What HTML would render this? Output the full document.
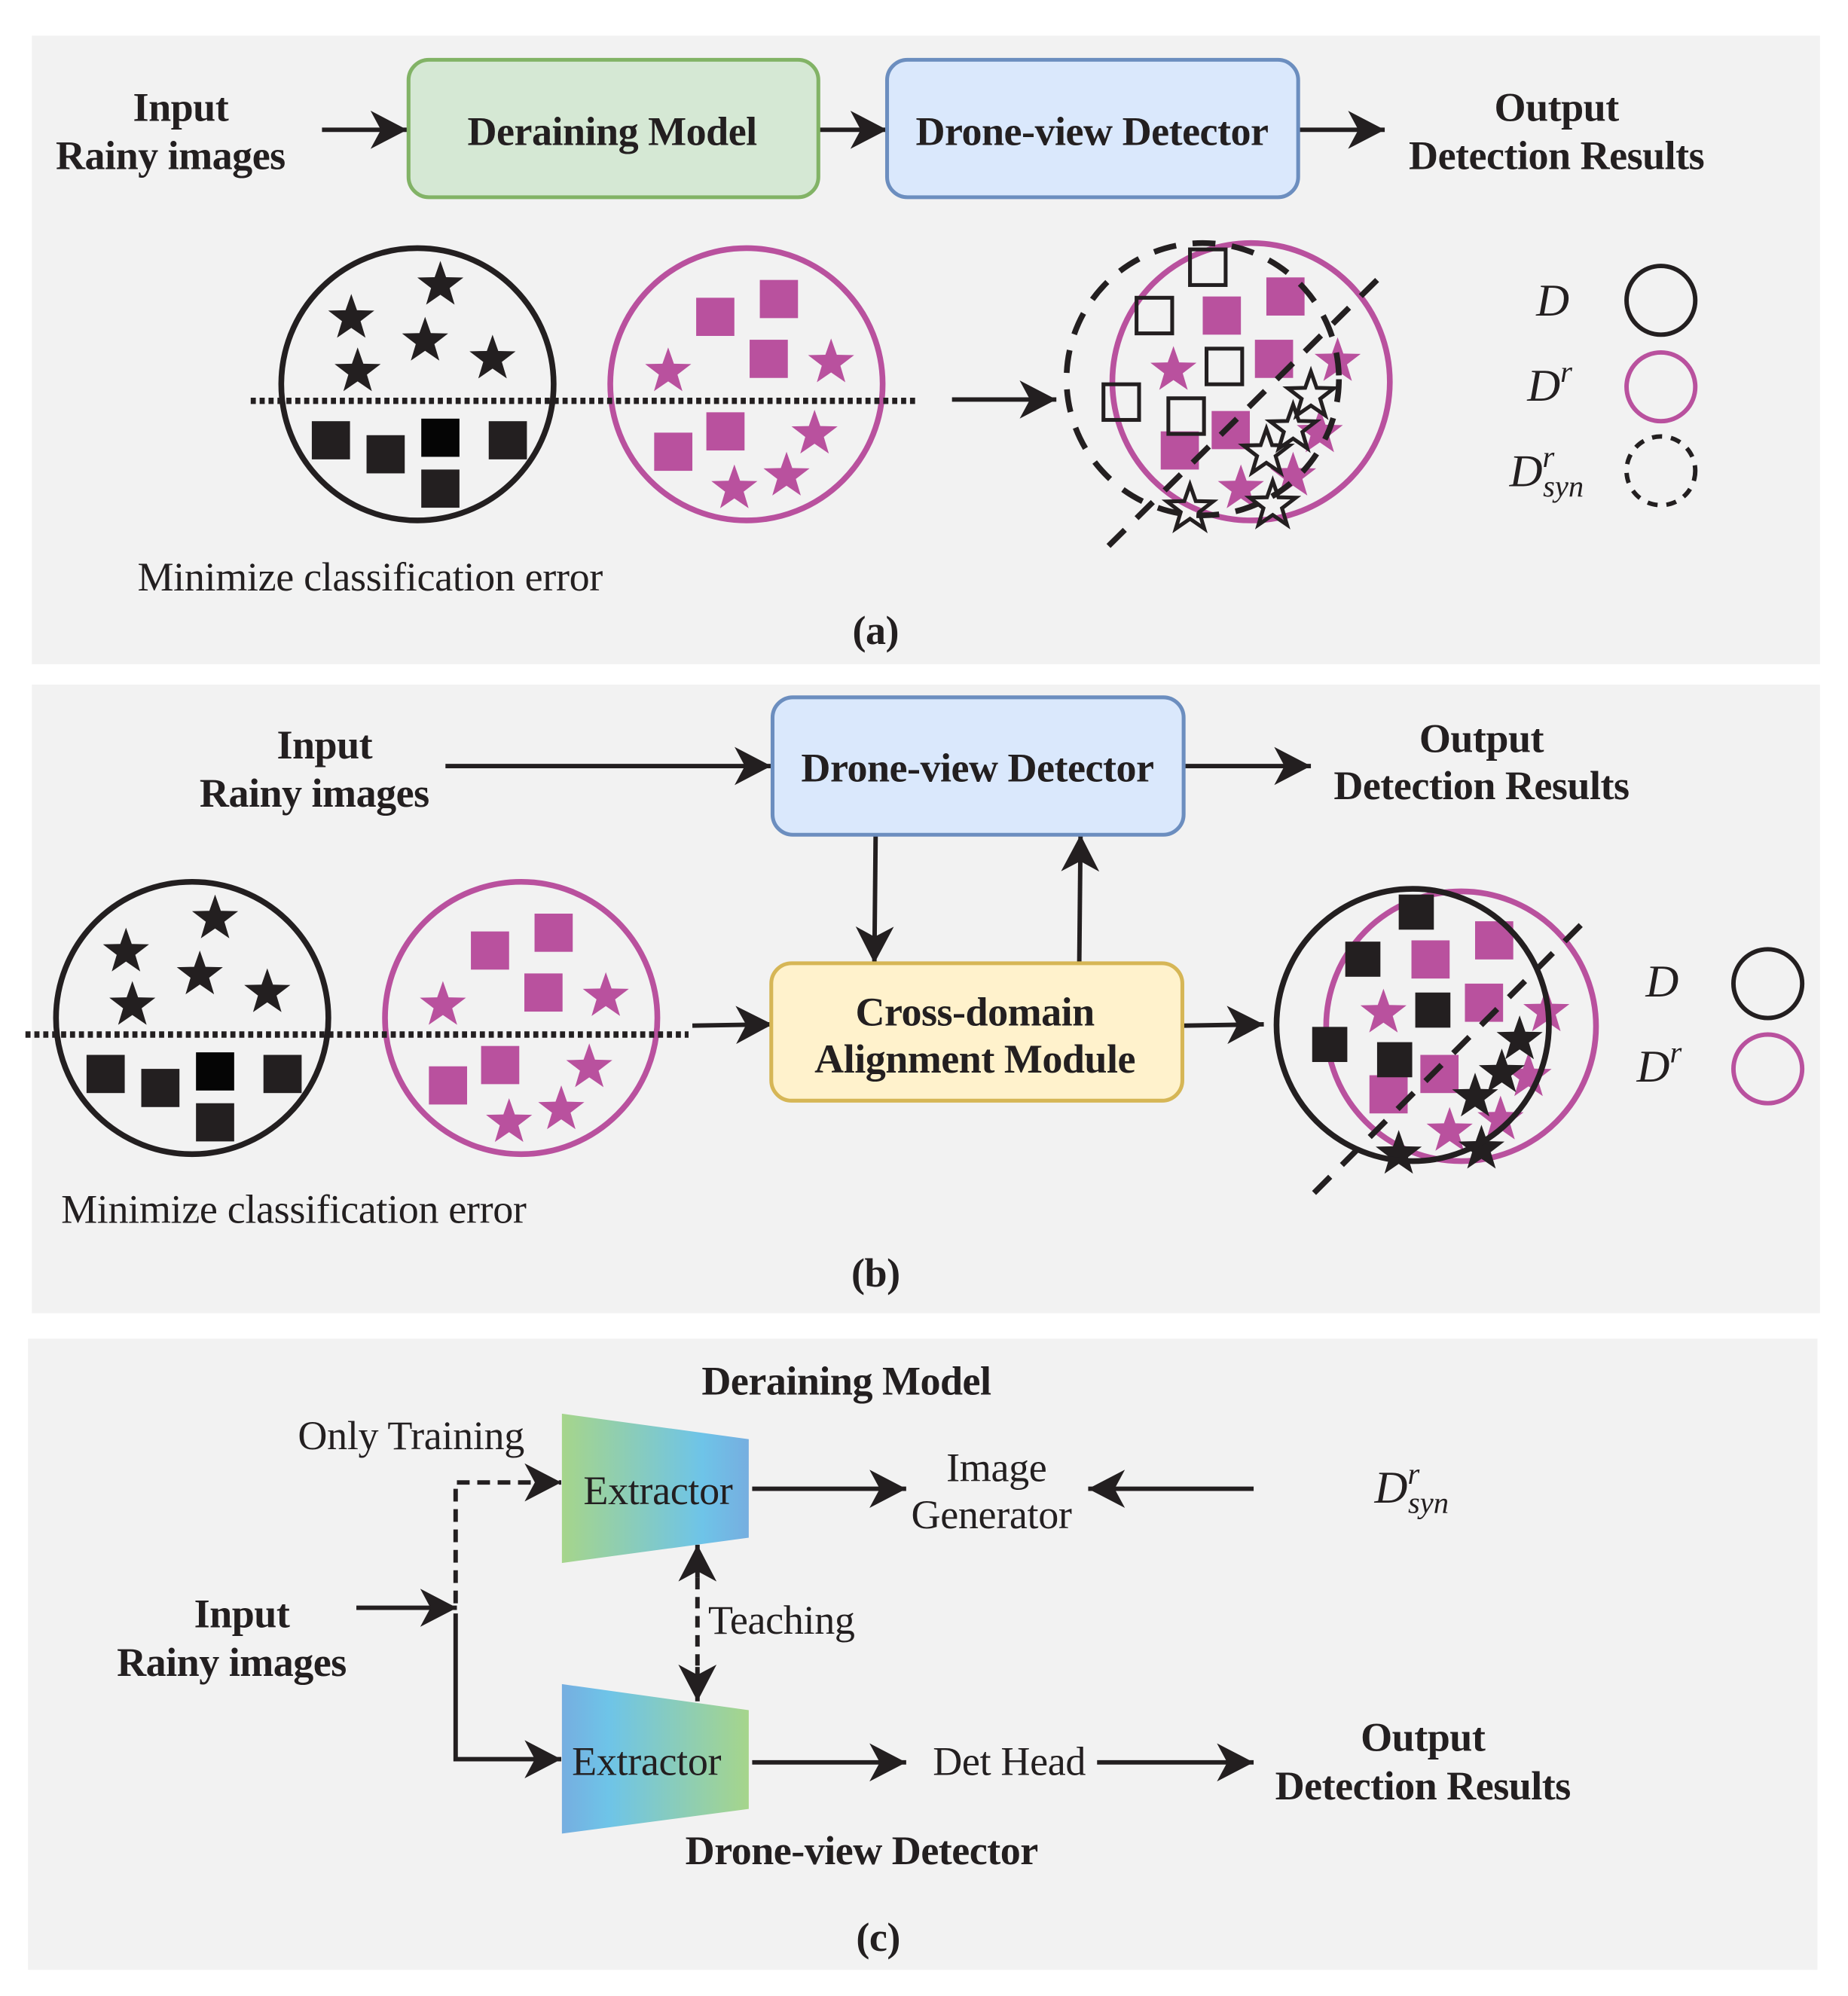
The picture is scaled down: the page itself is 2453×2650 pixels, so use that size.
<!DOCTYPE html>
<html><head><meta charset="utf-8"><style>
html,body{margin:0;padding:0;background:#fff;}
svg{display:block;}
text{font-family:"Liberation Serif",serif;fill:#231f20;}
.b{font-weight:bold;font-size:32px;letter-spacing:-0.3px;}
.r{font-size:32px;letter-spacing:-0.2px;}
.m{font-style:italic;font-size:36px;}
</style></head><body>
<svg width="2453" height="2650" viewBox="0 0 1452 1568.6" preserveAspectRatio="none" xmlns="http://www.w3.org/2000/svg">
<defs>
<marker id="ah" markerUnits="userSpaceOnUse" markerWidth="30" markerHeight="30" viewBox="0 0 26 26" refX="25" refY="13" orient="auto">
<path d="M0,0 L25,13 L0,26 L7,13 Z" fill="#231f20"/>
</marker>
<path id="st" d="M0,-19 L4.5,-6.2 L18.1,-5.9 L7.3,2.4 L11.2,15.4 L0,7.7 L-11.2,15.4 L-7.3,2.4 L-18.1,-5.9 L-4.5,-6.2 Z"/>
<linearGradient id="g1" x1="0" x2="1" y1="0" y2="0"><stop offset="0" stop-color="#a6d58b"/><stop offset="0.75" stop-color="#6ec4e8"/><stop offset="1" stop-color="#76aee0"/></linearGradient>
<linearGradient id="g2" x1="0" x2="1" y1="0" y2="0"><stop offset="0" stop-color="#76aee0"/><stop offset="0.25" stop-color="#6ec4e8"/><stop offset="1" stop-color="#a6d58b"/></linearGradient>
</defs>
<rect x="25" y="28" width="1405" height="494" fill="#f2f2f2"/>
<rect x="25" y="538" width="1405" height="494" fill="#f2f2f2"/>
<rect x="22" y="1052" width="1406" height="496" fill="#f2f2f2"/>

<g stroke="#231f20" stroke-width="3.5" fill="none">
<line x1="253" y1="102" x2="320" y2="102" marker-end="url(#ah)"/>
<line x1="643" y1="102" x2="697" y2="102" marker-end="url(#ah)"/>
<line x1="1020" y1="102" x2="1088" y2="102" marker-end="url(#ah)"/>
<line x1="748" y1="314" x2="830" y2="314" marker-end="url(#ah)"/>
<line x1="350" y1="602" x2="606" y2="602" marker-end="url(#ah)"/>
<line x1="930" y1="602" x2="1030" y2="602" marker-end="url(#ah)"/>
<line x1="688" y1="656" x2="687" y2="757" marker-end="url(#ah)"/>
<line x1="848" y1="757" x2="849" y2="656" marker-end="url(#ah)"/>
<line x1="544" y1="806" x2="607" y2="805" marker-end="url(#ah)"/>
<line x1="930" y1="806" x2="993" y2="805" marker-end="url(#ah)"/>
<line x1="280" y1="1263.5" x2="359" y2="1263.5" marker-end="url(#ah)"/>
<path d="M358,1268 V1382.5 H441" marker-end="url(#ah)"/>
<path d="M358,1260 V1165 H441" stroke-dasharray="10 6" marker-end="url(#ah)"/>
<line x1="591" y1="1170" x2="712" y2="1170" marker-end="url(#ah)"/>
<line x1="985" y1="1170" x2="855" y2="1170" marker-end="url(#ah)"/>
<line x1="591" y1="1385" x2="712" y2="1385" marker-end="url(#ah)"/>
<line x1="862" y1="1385" x2="985" y2="1385" marker-end="url(#ah)"/>
<line x1="548" y1="1240" x2="548" y2="1214" marker-end="url(#ah)"/>
<line x1="548" y1="1240" x2="548" y2="1310" stroke-dasharray="9 6"/>
<line x1="548" y1="1310" x2="548" y2="1337" marker-end="url(#ah)"/>
</g>

<rect x="321" y="47" width="322" height="108" rx="16" fill="#d5e8d4" stroke="#82b366" stroke-width="3"/>
<rect x="697" y="47" width="323" height="108" rx="16" fill="#dae8fc" stroke="#6c8ebf" stroke-width="3"/>
<rect x="607" y="548" width="323" height="108" rx="16" fill="#dae8fc" stroke="#6c8ebf" stroke-width="3"/>
<rect x="606" y="757" width="323" height="108" rx="16" fill="#fff2cc" stroke="#d6b656" stroke-width="3"/>
<polygon points="441.5,1111 588.3,1131 588.3,1208.4 441.5,1228.3" fill="url(#g1)"/>
<polygon points="441.5,1323.5 588.3,1344 588.3,1421.6 441.5,1441" fill="url(#g2)"/>

<g text-anchor="middle">
<text class="b" x="142" y="95">Input</text>
<text class="b" x="134" y="133">Rainy images</text>
<text class="b" x="481" y="114">Deraining Model</text>
<text class="b" x="858" y="114">Drone-view Detector</text>
<text class="b" x="1223" y="95">Output</text>
<text class="b" x="1223" y="133">Detection Results</text>
<text class="b" x="688" y="506">(a)</text>
<text class="b" x="255" y="596">Input</text>
<text class="b" x="247" y="634">Rainy images</text>
<text class="b" x="768" y="614">Drone-view Detector</text>
<text class="b" x="1164" y="591">Output</text>
<text class="b" x="1164" y="628">Detection Results</text>
<text class="b" x="766" y="806">Cross-domain</text>
<text class="b" x="766" y="843">Alignment Module</text>
<text class="b" x="688" y="1011">(b)</text>
<text class="b" x="665" y="1096">Deraining Model</text>
<text class="r" x="323" y="1139">Only Training</text>
<text class="r" x="517" y="1182">Extractor</text>
<text class="r" x="508" y="1395">Extractor</text>
<text class="r" x="783" y="1164">Image</text>
<text class="r" x="779" y="1201">Generator</text>
<text class="r" x="614" y="1284">Teaching</text>
<text class="b" x="190" y="1279">Input</text>
<text class="b" x="182" y="1317">Rainy images</text>
<text class="r" x="793" y="1395">Det Head</text>
<text class="b" x="1118" y="1376">Output</text>
<text class="b" x="1118" y="1414">Detection Results</text>
<text class="b" x="677" y="1465">Drone-view Detector</text>
<text class="b" x="690" y="1533">(c)</text>
</g>
<text class="r" x="108" y="464">Minimize classification error</text>
<text class="r" x="48" y="961">Minimize classification error</text>

<text class="m" x="1207" y="248">D</text>
<text class="m" x="1200" y="315">D<tspan font-size="24" dy="-15">r</tspan></text>
<text class="m" x="1186" y="382">D<tspan font-size="24" dy="-15">r</tspan><tspan font-size="24" dx="-9" dy="23">syn</tspan></text>
<circle cx="1305" cy="236" r="27" fill="none" stroke="#231f20" stroke-width="3.5"/>
<circle cx="1305" cy="304" r="27" fill="none" stroke="#b9519e" stroke-width="3.5"/>
<circle cx="1305" cy="370" r="27" fill="none" stroke="#231f20" stroke-width="3.5" stroke-dasharray="8 7"/>
<text class="m" x="1293" y="783">D</text>
<text class="m" x="1286" y="850">D<tspan font-size="24" dy="-15">r</tspan></text>
<circle cx="1389" cy="773" r="27" fill="none" stroke="#231f20" stroke-width="3.5"/>
<circle cx="1389" cy="840" r="27" fill="none" stroke="#b9519e" stroke-width="3.5"/>
<text class="m" x="1080" y="1181">D<tspan font-size="24" dy="-15">r</tspan><tspan font-size="24" dx="-9" dy="23">syn</tspan></text>

<g id="clus">
<circle cx="151" cy="800" r="107" fill="none" stroke="#231f20" stroke-width="4.5"/>
<circle cx="409.5" cy="800" r="107" fill="none" stroke="#b9519e" stroke-width="4.5"/>
<g fill="#231f20">
<use href="#st" x="169" y="722"/><use href="#st" x="99" y="748"/><use href="#st" x="157" y="766"/><use href="#st" x="210" y="780"/><use href="#st" x="104" y="790"/>
<rect x="68" y="829" width="30" height="30"/><rect x="111" y="840" width="30" height="30"/><rect x="154" y="827" width="30" height="30" fill="#050505"/><rect x="207" y="829" width="30" height="30"/><rect x="154" y="867" width="30" height="30"/>
</g>
<g fill="#b9519e">
<rect x="370" y="732" width="30" height="30"/><rect x="420" y="718" width="30" height="30"/><rect x="412" y="765" width="30" height="30"/><rect x="378" y="822" width="30" height="30"/><rect x="337" y="838" width="30" height="30"/>
<use href="#st" x="348" y="790"/><use href="#st" x="476" y="783"/><use href="#st" x="463" y="839"/><use href="#st" x="400" y="882"/><use href="#st" x="441" y="872"/>
</g>
</g>
<line x1="20" y1="813" x2="541" y2="813" stroke="#231f20" stroke-width="5" stroke-dasharray="4 3"/>
<g transform="translate(177,-498)"><use href="#clus"/></g>
<line x1="197" y1="315" x2="719" y2="315" stroke="#231f20" stroke-width="5" stroke-dasharray="4 3"/>

<circle cx="983" cy="300" r="109" fill="none" stroke="#b9519e" stroke-width="4.5"/>
<g fill="#b9519e">
<rect x="945" y="233" width="30" height="30"/><rect x="995" y="218" width="30" height="30"/><rect x="986" y="267" width="30" height="30"/><rect x="952" y="323" width="30" height="30"/><rect x="912" y="339" width="30" height="30"/>
<use href="#st" x="922" y="291"/><use href="#st" x="1051" y="284"/><use href="#st" x="1037" y="340"/><use href="#st" x="975" y="384"/><use href="#st" x="1016" y="374"/>
</g>
<g fill="none" stroke="#231f20" stroke-width="3">
<rect x="935" y="196" width="28" height="28"/><rect x="893" y="234" width="28" height="28"/><rect x="948" y="274" width="28" height="28"/><rect x="867" y="302" width="28" height="28"/><rect x="918" y="313" width="28" height="28"/>
<use href="#st" x="1030" y="311"/><use href="#st" x="1016" y="337"/><use href="#st" x="995" y="356"/><use href="#st" x="935" y="400"/><use href="#st" x="1000" y="397"/>
</g>
<circle cx="945" cy="298" r="107" fill="none" stroke="#231f20" stroke-width="4.5" stroke-dasharray="18 13"/>
<line x1="1082" y1="220" x2="868" y2="432" stroke="#231f20" stroke-width="4.5" stroke-dasharray="18 13"/>

<circle cx="1148" cy="806.5" r="106" fill="none" stroke="#b9519e" stroke-width="4.5"/>
<g fill="#b9519e">
<rect x="1109" y="739" width="30" height="30"/><rect x="1159" y="724" width="30" height="30"/><rect x="1151" y="773" width="30" height="30"/><rect x="1116" y="829" width="30" height="30"/><rect x="1076" y="845" width="30" height="30"/>
<use href="#st" x="1087" y="796"/><use href="#st" x="1215" y="795"/><use href="#st" x="1201" y="846"/><use href="#st" x="1139" y="889"/><use href="#st" x="1179" y="880"/>
</g>
<g fill="#231f20">
<rect x="1099" y="703" width="27.6" height="27.6"/><rect x="1057" y="740" width="27.6" height="27.6"/><rect x="1112" y="780" width="27.6" height="27.6"/><rect x="1031" y="807" width="27.6" height="27.6"/><rect x="1082" y="819" width="27.6" height="27.6"/>
<use href="#st" x="1194" y="817"/><use href="#st" x="1180" y="843"/><use href="#st" x="1159" y="862"/><use href="#st" x="1099" y="907"/><use href="#st" x="1164" y="903"/>
</g>
<circle cx="1110" cy="805.5" r="107" fill="none" stroke="#231f20" stroke-width="4.5"/>
<line x1="1242" y1="727" x2="1031" y2="939" stroke="#231f20" stroke-width="4.5" stroke-dasharray="18 13"/>
</svg>
</body></html>
